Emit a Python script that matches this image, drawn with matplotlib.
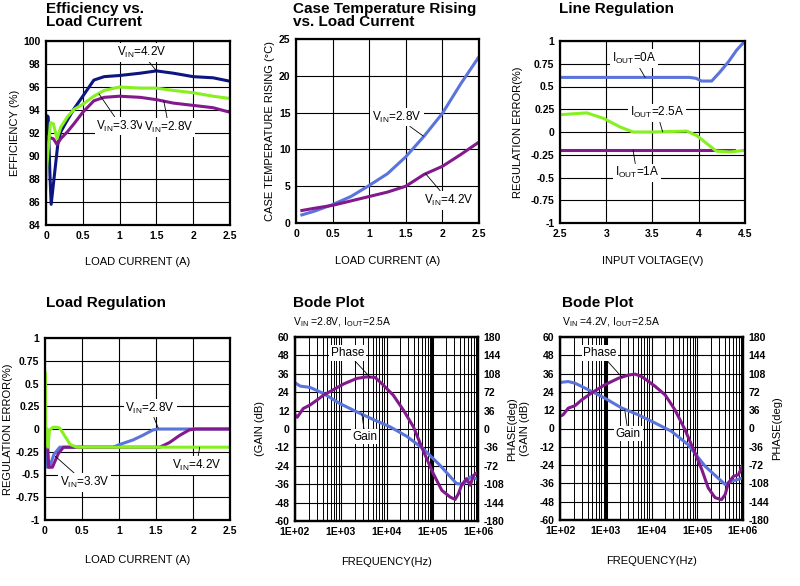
import matplotlib
matplotlib.use("Agg")
import matplotlib.pyplot as plt
from matplotlib.ticker import LogLocator, NullFormatter

plt.rcParams["font.family"] = ["Liberation Sans", "DejaVu Sans"]
plt.rcParams["axes.unicode_minus"] = False

# ---- data ----
# Efficiency vs. load current
eff_x_42 = [0.0, 0.015, 0.03, 0.05, 0.07, 0.11, 0.16, 0.2, 0.27, 0.38, 0.5, 0.65, 0.79, 1.0, 1.28, 1.5, 1.73, 2.0, 2.27, 2.5]
eff_y_42 = [91.5, 93.5, 93.4, 89.0, 85.8, 88.1, 91.0, 92.1, 92.9, 94.1, 95.2, 96.6, 96.9, 97.0, 97.2, 97.4, 97.2, 96.9, 96.8, 96.5]
eff_x_33 = [0.0, 0.01, 0.06, 0.1, 0.15, 0.2, 0.29, 0.38, 0.5, 0.65, 0.79, 1.0, 1.28, 1.5, 1.73, 2.0, 2.27, 2.5]
eff_y_33 = [87.2, 89.0, 92.9, 92.8, 91.5, 92.5, 93.4, 94.05, 94.5, 95.2, 95.7, 96.0, 95.9, 95.9, 95.7, 95.5, 95.2, 95.0]
eff_x_28 = [0.0, 0.05, 0.1, 0.15, 0.2, 0.29, 0.38, 0.5, 0.65, 0.79, 1.0, 1.28, 1.5, 1.73, 2.0, 2.27, 2.5]
eff_y_28 = [91.7, 91.6, 91.5, 91.0, 91.5, 92.1, 92.8, 93.8, 94.8, 95.1, 95.2, 95.1, 94.9, 94.6, 94.4, 94.2, 93.8]

# Case temperature rising vs. load current
temp_x = [0.08, 0.25, 0.5, 0.75, 1.0, 1.25, 1.5, 1.75, 2.0, 2.25, 2.5]
temp_28 = [1.1, 1.6, 2.5, 3.6, 5.1, 6.7, 9.0, 11.8, 14.9, 18.9, 22.6]
temp_42 = [1.7, 2.0, 2.4, 3.0, 3.6, 4.2, 5.0, 6.6, 7.7, 9.3, 11.0]

# Line regulation
lr_x_0 = [2.5, 3.0, 3.5, 3.9, 3.97, 4.03, 4.14, 4.23, 4.32, 4.41, 4.5]
lr_y_0 = [0.6, 0.6, 0.6, 0.6, 0.59, 0.56, 0.56, 0.66, 0.77, 0.9, 1.0]
lr_x_25 = [2.5, 2.79, 2.97, 3.15, 3.29, 3.5, 3.87, 3.98, 4.09, 4.19, 4.34, 4.5]
lr_y_25 = [0.19, 0.21, 0.15, 0.055, 0.0, 0.0, 0.01, -0.04, -0.13, -0.21, -0.22, -0.2]
lr_x_1 = [2.5, 4.38]
lr_y_1 = [-0.2, -0.2]

# Load regulation
ld_x_28 = [0.0, 0.02, 0.03, 0.06, 0.12, 0.2, 0.5, 0.92, 1.01, 1.19, 1.32, 1.46, 1.53, 2.0, 2.5]
ld_y_28 = [0.0, -0.1, -0.42, -0.42, -0.28, -0.2, -0.2, -0.2, -0.17, -0.12, -0.07, -0.01, 0.0, 0.0, 0.0]
ld_x_42 = [0.0, 0.03, 0.05, 0.1, 0.18, 0.25, 0.5, 1.0, 1.55, 1.68, 1.82, 1.95, 2.04, 2.5]
ld_y_42 = [0.0, -0.05, -0.42, -0.42, -0.27, -0.2, -0.2, -0.2, -0.2, -0.15, -0.07, -0.01, 0.0, 0.0]
ld_x_33 = [0.0, 0.005, 0.012, 0.02, 0.03, 0.04, 0.06, 0.08, 0.11, 0.15, 0.2, 0.27, 0.34, 0.43, 1.0, 2.5]
ld_y_33 = [0.0, 0.62, -0.05, -0.18, 0.0, -0.2, -0.02, 0.0, 0.02, 0.02, 0.01, -0.08, -0.17, -0.2, -0.2, -0.2]

# Bode plot, VIN=2.8V
b1_gain_f = [100, 129, 214, 417, 955, 2240, 5130, 12000, 27500, 63000, 148000, 339000, 479000, 676000, 933000, 1000000]
b1_gain = [30.2, 28.0, 27.1, 23.2, 16.6, 11.2, 6.2, 1.4, -4.7, -12.8, -23.7, -35.6, -36.0, -31.3, -32.4, -33.5]
b1_phase_f = [100, 112, 151, 214, 295, 417, 692, 1150, 2240, 3720, 5620, 8510, 14100, 23400, 38900, 63100,
              105000, 162000, 245000, 316000, 372000, 437000, 562000, 676000, 794000, 1000000]
b1_phase = [28, 23, 40, 47, 56, 66, 77, 88, 99, 102, 101, 86, 66, 37, 4, -42,
            -87, -120, -133, -138, -127, -110, -97, -110, -91, -84]

# Bode plot, VIN=4.2V
b2_gain_f = [100, 151, 214, 417, 955, 2240, 5130, 12000, 27500, 63000, 148000, 407000, 562000, 1000000]
b2_gain = [30.2, 30.8, 29.7, 25.4, 19.9, 13.4, 9.0, 3.6, -1.9, -10.6, -24.7, -36.7, -34.6, -32.4]
b2_phase_f = [100, 117, 151, 214, 295, 490, 955, 1910, 3090, 4370, 6170, 12000, 19900, 32400, 53700,
              89100, 126000, 174000, 245000, 339000, 407000, 479000, 617000, 794000, 1000000]
b2_phase = [24, 27, 40, 45, 56, 70, 86, 99, 105, 107, 102, 83, 66, 37, -2,
            -48, -81, -117, -136, -140, -130, -107, -94, -91, -71]

NAVY = "#0c1580"
LIME = "#86f020"
PURPLE = "#82198c"
BLUE = "#5a74dc"

W, H = 800, 586
fig = plt.figure(figsize=(W / 100, H / 100), dpi=100)

LAB = 8  # axis label size


def place(l, t, r, b):
    return fig.add_axes([l / W, 1 - b / H, (r - l) / W, (b - t) / H])


def style(ax, xt, yt, xlab=None, ylab=None):
    for s in ax.spines.values():
        s.set_linewidth(1.6)
        s.set_color("black")
    ax.set_xticks(xt, [f"{v:g}" for v in xt] if xlab is None else xlab, fontweight="bold", fontsize=7.5)
    ax.set_yticks(yt, [f"{v:g}" for v in yt] if ylab is None else ylab, fontweight="bold", fontsize=7.5)
    ax.tick_params(length=0, pad=4)
    ax.grid(True, color="black", lw=0.8)
    ax.set_axisbelow(True)


def note(ax, text, xytext, xy):
    ax.annotate(text, xy=xy, xytext=xytext, ha="center", va="center", fontsize=8.5, zorder=6,
                bbox=dict(boxstyle="square,pad=0.15", fc="white", ec="none"),
                arrowprops=dict(arrowstyle="-", lw=0.6, color="black", shrinkA=0, shrinkB=0))


def title(x, y, text, size=11, weight="bold"):
    fig.text(x / W, 1 - y / H, text, ha="left", va="top", fontsize=size, fontweight=weight, linespacing=0.95)


def vin(v):
    return r"V$_\mathregular{IN}$=" + v


def iout(v):
    return r"I$_\mathregular{OUT}$=" + v


lw = 2.2

# ---- Efficiency ----
ax1 = place(46, 41, 230, 225)
ax1.plot(eff_x_42, eff_y_42, color=NAVY, lw=lw)
ax1.plot(eff_x_28, eff_y_28, color=PURPLE, lw=lw)
ax1.plot(eff_x_33, eff_y_33, color=LIME, lw=lw)
ax1.set_xlim(0, 2.5)
ax1.set_ylim(84, 100)
style(ax1, [0, 0.5, 1, 1.5, 2, 2.5], list(range(84, 101, 2)))
ax1.set_xlabel("LOAD CURRENT (A)", fontsize=LAB)
ax1.set_ylabel("EFFICIENCY (%)", fontsize=LAB)
ax1.xaxis.set_label_coords(0.5, -0.175)
ax1.yaxis.set_label_coords(-0.141, 0.5)
note(ax1, vin("4.2V"), (1.30, 99.0), (1.5, 97.4))
note(ax1, vin("3.3V"), (1.02, 92.6), (0.72, 95.4))
note(ax1, vin("2.8V"), (1.67, 92.5), (1.6, 94.8))
title(46, 2, "Efficiency vs.\nLoad Current")

# ---- Case temperature ----
ax2 = place(296, 39, 479, 223)
ax2.plot(temp_x, temp_28, color=BLUE, lw=lw)
ax2.plot(temp_x, temp_42, color=PURPLE, lw=lw)
ax2.set_xlim(0, 2.5)
ax2.set_ylim(0, 25)
style(ax2, [0, 0.5, 1, 1.5, 2, 2.5], [0, 5, 10, 15, 20, 25])
ax2.set_xlabel("LOAD CURRENT (A)", fontsize=LAB)
ax2.set_ylabel("CASE TEMPERATURE RISING (°C)", fontsize=LAB)
ax2.xaxis.set_label_coords(0.5, -0.18)
ax2.yaxis.set_label_coords(-0.115, 0.5)
note(ax2, vin("2.8V"), (1.38, 14.4), (1.74, 11.8))
note(ax2, vin("4.2V"), (2.08, 3.1), (1.77, 6.7))
title(293, 2, "Case Temperature Rising\nvs. Load Current")

# ---- Line regulation ----
ax3 = place(560, 41, 745, 223)
ax3.plot(lr_x_0, lr_y_0, color=BLUE, lw=lw)
ax3.plot(lr_x_1, lr_y_1, color=PURPLE, lw=lw)
ax3.plot(lr_x_25, lr_y_25, color=LIME, lw=lw)
ax3.set_xlim(2.5, 4.5)
ax3.set_ylim(-1, 1)
style(ax3, [2.5, 3, 3.5, 4, 4.5], [-1, -0.75, -0.5, -0.25, 0, 0.25, 0.5, 0.75, 1])
ax3.set_xlabel("INPUT VOLTAGE(V)", fontsize=LAB)
ax3.set_ylabel("REGULATION ERROR(%)", fontsize=LAB)
ax3.xaxis.set_label_coords(0.5, -0.18)
ax3.yaxis.set_label_coords(-0.2, 0.5)
note(ax3, iout("0A"), (3.30, 0.81), (3.42, 0.6))
note(ax3, iout("2.5A"), (3.55, 0.21), (3.61, 0.0))
note(ax3, iout("1A"), (3.33, -0.45), (3.29, -0.2))
title(559, 2, "Line Regulation")

# ---- Load regulation ----
ax4 = place(45, 338, 230, 520)
ax4.plot(ld_x_28, ld_y_28, color=BLUE, lw=lw)
ax4.plot(ld_x_42, ld_y_42, color=PURPLE, lw=lw)
ax4.plot(ld_x_33, ld_y_33, color=LIME, lw=lw)
ax4.set_xlim(0, 2.5)
ax4.set_ylim(-1, 1)
style(ax4, [0, 0.5, 1, 1.5, 2, 2.5], [-1, -0.75, -0.5, -0.25, 0, 0.25, 0.5, 0.75, 1])
ax4.set_xlabel("LOAD CURRENT (A)", fontsize=LAB)
ax4.set_ylabel("REGULATION ERROR(%)", fontsize=LAB)
ax4.xaxis.set_label_coords(0.5, -0.19)
ax4.yaxis.set_label_coords(-0.175, 0.5)
note(ax4, vin("2.8V"), (1.42, 0.23), (1.53, 0.01))
note(ax4, vin("3.3V"), (0.54, -0.59), (0.14, -0.3))
note(ax4, vin("4.2V"), (2.05, -0.40), (2.09, -0.2))
title(46, 296, "Load Regulation")


# ---- Bode plots ----
def bode(rect, gf, g, pf, p, thick, title_x, sub, phase_note, gain_note):
    ax = place(*rect)
    ax.set_xscale("log")
    ax.set_xlim(1e2, 1e6)
    ax.set_ylim(-60, 60)
    dec = [1e2, 1e3, 1e4, 1e5, 1e6]
    style(ax, dec, list(range(-60, 61, 12)),
          xlab=["1E+02", "1E+03", "1E+04", "1E+05", "1E+06"])
    ax.xaxis.set_minor_locator(LogLocator(base=10, subs=range(2, 10)))
    ax.xaxis.set_minor_formatter(NullFormatter())
    ax.tick_params(which="minor", length=0)
    ax.grid(True, which="minor", axis="x", color="black", lw=0.7)
    ax.xaxis.get_major_ticks()[thick].gridline.set_linewidth(2.2)
    ax.plot(gf, g, color=BLUE, lw=lw)
    ax.set_xlabel("FREQUENCY(Hz)", fontsize=LAB)
    ax.set_ylabel("(GAIN (dB)", fontsize=LAB)
    ax.xaxis.set_label_coords(0.5, -0.195)
    ax.yaxis.set_label_coords(-0.164, 0.5)

    axp = ax.twinx()
    axp.set_ylim(-180, 180)
    pt = list(range(-180, 181, 36))
    axp.set_yticks(pt, [str(v) for v in pt], fontweight="bold", fontsize=7.5)
    axp.tick_params(length=0, pad=4)
    for s in axp.spines.values():
        s.set_linewidth(1.6)
    axp.plot(pf, p, color=PURPLE, lw=lw)
    axp.set_ylabel("PHASE(deg)", fontsize=LAB)
    axp.yaxis.set_label_coords(1.158, 0.5)
    note(axp, "Phase", *phase_note)
    note(ax, "Gain", *gain_note)
    title(title_x, 296, "Bode Plot")
    fig.text(title_x / W, 1 - 315 / H, sub, ha="left", va="top", fontsize=7.5)


bode((295, 337, 478, 521), b1_gain_f, b1_gain, b1_phase_f, b1_phase, 3, 293,
     r"V$_\mathregular{IN}$ =2.8V, I$_\mathregular{OUT}$=2.5A",
     ((1400, 149), (4400, 101)), ((3400, -5), (2900, 9.8)))
bode((560, 337, 743, 520), b2_gain_f, b2_gain, b2_phase_f, b2_phase, 1, 562,
     r"V$_\mathregular{IN}$ =4.2V, I$_\mathregular{OUT}$=2.5A",
     ((750, 149), (2300, 100)), ((3100, -3.4), (2600, 12.3)))

fig.savefig("out.png", dpi=100, facecolor="white")
